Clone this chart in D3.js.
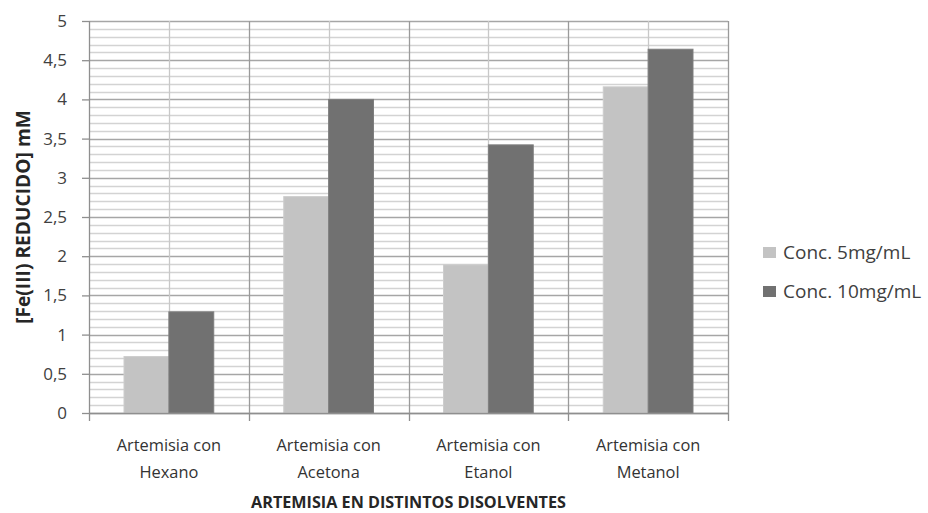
<!DOCTYPE html>
<html>
<head>
<meta charset="utf-8">
<script src="https://cdn.jsdelivr.net/npm/d3@7"></script>
<style>
  html, body { margin: 0; padding: 0; background: #ffffff; }
  svg { display: block; font-family: "Open Sans", Lato, sans-serif; }
</style>
</head>
<body>
<svg id="chart" width="928" height="513"></svg>
<script>
// Reduced Fe(III) by Artemisia extracts in different solvents
const categories = [
  ["Artemisia con", "Hexano"],
  ["Artemisia con", "Acetona"],
  ["Artemisia con", "Etanol"],
  ["Artemisia con", "Metanol"]
];
const seriesNames = ["Conc. 5mg/mL", "Conc. 10mg/mL"];
const conc5 = [0.72, 2.76, 1.89, 4.16];
const conc10 = [1.29, 4.00, 3.42, 4.64];
const yTickLabels = ["0", "0,5", "1", "1,5", "2", "2,5", "3", "3,5", "4", "4,5", "5"];
const yTitle = "[Fe(III) REDUCIDO] mM";
const xTitle = "ARTEMISIA EN DISTINTOS DISOLVENTES";

const seriesValues = [conc5, conc10];
const seriesColors = ["#c3c3c3", "#717171"];

const svg = d3.select("#chart");
const margin = { left: 89, right: 200, top: 21, bottom: 100 };
const W = 928, H = 513;
const plotW = W - margin.left - margin.right;
const plotH = H - margin.top - margin.bottom;

const catKeys = categories.map(c => c.join(" "));
const x0 = d3.scaleBand().domain(catKeys).range([0, plotW]).padding(0);
const x1 = d3.scaleBand().domain(seriesNames).range([0, x0.bandwidth()])
  .paddingInner(0).paddingOuter(0.78);
const y = d3.scaleLinear().domain([0, 5]).range([plotH, 0]);

const g = svg.append("g").attr("transform", `translate(${margin.left},${margin.top})`);

// minor horizontal gridlines every 0.1
const minor = d3.range(0, 51).map(i => i / 10).filter((v, i) => i % 5 !== 0);
g.append("g").selectAll("line").data(minor).join("line")
  .attr("x1", 0).attr("x2", plotW)
  .attr("y1", d => Math.round(y(d)) + 0.5).attr("y2", d => Math.round(y(d)) + 0.5)
  .attr("stroke", "#d3d3d3").attr("stroke-width", 1.7);

// major horizontal gridlines every 0.5
const major = d3.range(0, 11).map(i => i / 2);
g.append("g").selectAll("line").data(major).join("line")
  .attr("x1", 0).attr("x2", plotW)
  .attr("y1", d => Math.round(y(d)) + 0.5).attr("y2", d => Math.round(y(d)) + 0.5)
  .attr("stroke", "#a6a6a6").attr("stroke-width", 1.3);

// vertical gridlines: lighter at category centres, darker at boundaries
g.append("g").selectAll("line").data(catKeys).join("line")
  .attr("x1", d => Math.round(x0(d) + x0.bandwidth() / 2) + 0.5)
  .attr("x2", d => Math.round(x0(d) + x0.bandwidth() / 2) + 0.5)
  .attr("y1", 0).attr("y2", plotH)
  .attr("stroke", "#c8c8c8").attr("stroke-width", 1.3);

const bounds = catKeys.map(d => x0(d)).concat([plotW]);
g.append("g").selectAll("line").data(bounds.slice(1)).join("line")
  .attr("x1", d => Math.round(d) + 0.5).attr("x2", d => Math.round(d) + 0.5)
  .attr("y1", 0).attr("y2", plotH)
  .attr("stroke", "#9a9a9a").attr("stroke-width", 1.3);

// bars
const groups = g.append("g").selectAll("g").data(catKeys).join("g")
  .attr("transform", d => `translate(${x0(d)},0)`);
groups.selectAll("rect")
  .data((d, i) => seriesNames.map((s, j) => ({ s, v: seriesValues[j][i], j })))
  .join("rect")
  .attr("x", d => x1(d.s))
  .attr("y", d => y(d.v))
  .attr("width", x1.bandwidth())
  .attr("height", d => plotH - y(d.v))
  .attr("fill", d => seriesColors[d.j])
  .attr("stroke", d => d.j === 0 ? "#cdcdcd" : "#7e7e7e")
  .attr("stroke-width", 1);

// y axis
const yAxis = d3.axisLeft(y).tickValues(major).tickSize(7).tickPadding(15)
  .tickFormat((d, i) => yTickLabels[i]);
const ya = g.append("g").call(yAxis);
ya.select(".domain").attr("stroke", "#8f8f8f").attr("stroke-width", 1.3)
  .attr("d", `M0.5,0V${plotH}`);
ya.selectAll(".tick line").attr("stroke", "#8f8f8f").attr("stroke-width", 1.3);
ya.selectAll(".tick text").attr("fill", "#404040").attr("font-size", 17)
  .attr("font-family", "'Open Sans', sans-serif");

// x axis (ticks at category boundaries)
const xa = g.append("g").attr("transform", `translate(0,${plotH})`);
xa.append("line").attr("x1", 0).attr("x2", plotW).attr("y1", 0.5).attr("y2", 0.5)
  .attr("stroke", "#8f8f8f").attr("stroke-width", 1.3);
xa.selectAll("line.tk").data(bounds).join("line").attr("class", "tk")
  .attr("x1", d => Math.round(d) + 0.5).attr("x2", d => Math.round(d) + 0.5)
  .attr("y1", 0).attr("y2", 8)
  .attr("stroke", "#8f8f8f").attr("stroke-width", 1.3);

const labels = xa.selectAll("text.cat").data(categories).join("text").attr("class", "cat")
  .attr("text-anchor", "middle")
  .attr("fill", "#333333").attr("font-size", 16.4)
  .attr("transform", (d, i) => `translate(${x0(catKeys[i]) + x0.bandwidth() / 2},0)`);
labels.selectAll("tspan").data(d => d).join("tspan")
  .attr("x", 0).attr("y", (d, i) => 38 + i * 27)
  .text(d => d);

// axis titles
svg.append("text")
  .attr("x", margin.left + plotW / 2).attr("y", 508)
  .attr("text-anchor", "middle").attr("font-weight", "bold")
  .attr("font-size", 16.2).attr("fill", "#262626")
  .text(xTitle);

svg.append("text")
  .attr("transform", `translate(30,${margin.top + plotH / 2}) rotate(-90)`)
  .attr("text-anchor", "middle").attr("font-weight", "bold")
  .attr("font-size", 19.2).attr("fill", "#262626")
  .text(yTitle);

// legend
const legend = svg.append("g").attr("transform", "translate(763,247)");
const li = legend.selectAll("g").data(seriesNames).join("g")
  .attr("transform", (d, i) => `translate(0,${i * 39})`);
li.append("rect").attr("width", 13).attr("height", 11)
  .attr("fill", (d, i) => seriesColors[i]);
li.append("text").attr("x", 20).attr("y", 5.5).attr("dy", "0.35em")
  .attr("font-size", 19).attr("fill", "#404040").text(d => d);
</script>
</body>
</html>
